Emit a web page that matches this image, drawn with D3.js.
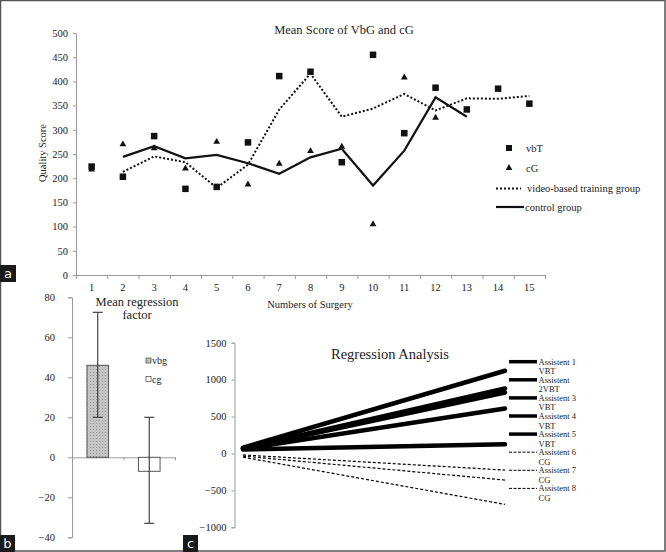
<!DOCTYPE html>
<html><head><meta charset="utf-8">
<script src="https://cdn.jsdelivr.net/npm/d3@7"></script>
<style>
body{margin:0;background:#fff}
svg{display:block;font-family:"Liberation Serif","Times New Roman",serif}
</style></head><body>
<svg id="chart" width="666" height="552"></svg>
<script>
// ---------- Panel a data ----------
const surgeries = ["1","2","3","4","5","6","7","8","9","10","11","12","13","14","15"];
const vbtScores = [224,203,287,178,182,274,411,420,233,455,293,387,342,385,354];
const cgScores  = [218,270,262,220,275,187,230,256,265,105,408,325,null,null,null];
const vbtTrend  = [null,213,245,233,180,228,342,416,327,344,374,340,365,364,370];
const cgTrend   = [null,244,266,241,248,231,209,243,261,185,257,367,327,null,null];
const scoreTicks = [0,50,100,150,200,250,300,350,400,450,500];
const topLegend = ["vbT","cG","video-based training group","control group"];

// ---------- Panel b data ----------
const groups = ["vbg","cg"];
const meanFactor = [46,-7];
const errUpper = [72.5,20];
const errLower = [20,-33];
const factorTicks = [-40,-20,0,20,40,60,80];

// ---------- Panel c data ----------
const assistLabel1 = ["Assistent 1","Assistent","Assistent 3","Assistent 4","Assistent 5","Assistent 6","Assistent 7","Assistent 8"];
const assistLabel2 = ["VBT","2VBT","VBT","VBT","VBT","CG","CG","CG"];
const assistGroup  = ["VBT","VBT","VBT","VBT","VBT","CG","CG","CG"];
const regStart = [80,70,65,60,55,-20,-35,-50];
const regEnd   = [1120,880,825,610,126,-225,-360,-690];
const regX = [1,2];
const regTicks = [-1000,-500,0,500,1000,1500];

const svg = d3.select("#chart");
const ink = "#222", axisCol = "#9a9a9a";
const serif = '"Liberation Serif","Times New Roman",serif';

function styleAxis(g){
  g.attr("font-family",serif);
  g.selectAll(".domain").attr("stroke",axisCol);
  g.selectAll(".tick line").attr("stroke",axisCol);
  g.selectAll("text").attr("fill",ink).attr("font-family",serif).style("font-family",serif);
}

// ================= Panel a =================
const xA = d3.scaleBand().domain(surgeries).range([76,545]);
const xAb = d3.scaleLinear().domain([0,15]).range([76,545]);
const yA = d3.scaleLinear().domain([0,500]).range([275,33]);

svg.append("g").attr("transform","translate(76,0)")
  .call(d3.axisLeft(yA).tickValues(scoreTicks).tickSize(3).tickPadding(5).tickFormat(d3.format("d")))
  .call(g=>g.selectAll("text").style("font-size","10.5px"))
  .call(styleAxis);
svg.append("g").attr("transform","translate(0,275)")
  .call(d3.axisBottom(xAb).ticks(15).tickSize(4).tickFormat(""))
  .call(styleAxis);
svg.append("g").attr("transform","translate(0,275)")
  .call(d3.axisBottom(xA).tickSize(0).tickPadding(8.5))
  .call(g=>g.select(".domain").remove())
  .call(g=>g.selectAll("text").style("font-size","10.5px"))
  .call(styleAxis);

svg.append("text").attr("x",344).attr("y",34).attr("text-anchor","middle")
  .style("font-size","12.5px").attr("fill",ink).text("Mean Score of VbG and cG");
svg.append("text").attr("transform","translate(46,153) rotate(-90)").attr("text-anchor","middle")
  .style("font-size","10.5px").attr("fill",ink).text("Quality Score");
svg.append("text").attr("x",310).attr("y",308).attr("text-anchor","middle")
  .style("font-size","10.5px").attr("fill",ink).text("Numbers of Surgery");

const cx = d=>xA(d)+xA.bandwidth()/2;
const lineA = d3.line().defined(d=>d[1]!=null).x(d=>cx(d[0])).y(d=>yA(d[1]));
svg.append("path").datum(surgeries.map((s,i)=>[s,vbtTrend[i]]))
  .attr("d",lineA).attr("fill","none").attr("stroke","#111").attr("stroke-width",2)
  .attr("stroke-dasharray","2,2");
svg.append("path").datum(surgeries.map((s,i)=>[s,cgTrend[i]]))
  .attr("d",lineA).attr("fill","none").attr("stroke","#111").attr("stroke-width",2.2);

const sq = 6.5;
svg.append("g").selectAll("rect").data(surgeries.map((s,i)=>[s,vbtScores[i]]))
  .join("rect").attr("x",d=>cx(d[0])-sq/2).attr("y",d=>yA(d[1])-sq/2)
  .attr("width",sq).attr("height",sq).attr("fill","#111");
const tri = d3.symbol().type(d3.symbolTriangle).size(20);
svg.append("g").selectAll("path").data(surgeries.map((s,i)=>[s,cgScores[i]]).filter(d=>d[1]!=null))
  .join("path").attr("d",tri).attr("transform",d=>`translate(${cx(d[0])},${yA(d[1])})`).attr("fill","#111");

// legend a
const lgA = svg.append("g");
lgA.append("rect").attr("x",506).attr("y",145).attr("width",6).attr("height",6).attr("fill","#111");
lgA.append("path").attr("d",tri).attr("transform","translate(509,168)").attr("fill","#111");
lgA.append("line").attr("x1",496).attr("x2",521).attr("y1",188.5).attr("y2",188.5)
  .attr("stroke","#111").attr("stroke-width",2).attr("stroke-dasharray","2,2");
lgA.append("line").attr("x1",496).attr("x2",524).attr("y1",207).attr("y2",207)
  .attr("stroke","#111").attr("stroke-width",2.2);
const lgAy = [152,172,192,211], lgAx = [526,526,527,525];
topLegend.forEach((t,i)=>lgA.append("text").attr("x",lgAx[i]).attr("y",lgAy[i])
  .style("font-size","10.5px").attr("fill",ink).text(t));

// ================= Panel b =================
const xB = d3.scaleBand().domain(groups).range([72,175]).paddingInner(0.58).paddingOuter(0.29);
const xBb = d3.scaleLinear().domain([0,2]).range([72,175]);
const yB = d3.scaleLinear().domain([-40,80]).range([537.3,297.3]);

svg.append("g").attr("transform","translate(72,0)")
  .call(d3.axisLeft(yB).tickValues(factorTicks).tickSize(4).tickPadding(13).tickFormat(d3.format("d")))
  .call(g=>g.selectAll("text").style("font-size","10.5px"))
  .call(styleAxis);
svg.append("g").attr("transform",`translate(0,${yB(0)})`)
  .call(d3.axisBottom(xBb).tickValues([1,2]).tickSize(3).tickFormat(""))
  .call(styleAxis);

const defs = svg.append("defs");
const pat = defs.append("pattern").attr("id","dots").attr("width",3).attr("height",3)
  .attr("patternUnits","userSpaceOnUse");
pat.append("rect").attr("width",3).attr("height",3).attr("fill","#c4c4c4");
pat.append("rect").attr("width",1).attr("height",1).attr("fill","#9a9a9a");

const fills = ["url(#dots)","#fff"];
svg.append("g").selectAll("rect").data(groups).join("rect")
  .attr("x",d=>xB(d)).attr("width",xB.bandwidth())
  .attr("y",(d,i)=>yB(Math.max(0,meanFactor[i])))
  .attr("height",(d,i)=>Math.abs(yB(meanFactor[i])-yB(0)))
  .attr("fill",(d,i)=>fills[i]).attr("stroke","#555").attr("stroke-width",1);

const eb = svg.append("g").attr("stroke","#333").attr("stroke-width",1.1);
groups.forEach((g,i)=>{
  const c = xB(g)+xB.bandwidth()/2;
  eb.append("line").attr("x1",c).attr("x2",c).attr("y1",yB(errUpper[i])).attr("y2",yB(errLower[i]));
  [errUpper[i],errLower[i]].forEach(v=>eb.append("line").attr("x1",c-5).attr("x2",c+5)
    .attr("y1",yB(v)).attr("y2",yB(v)));
});

svg.append("text").attr("x",137).attr("y",306).attr("text-anchor","middle")
  .style("font-size","12.5px").attr("fill",ink).text("Mean regression");
svg.append("text").attr("x",137).attr("y",319).attr("text-anchor","middle")
  .style("font-size","12.5px").attr("fill",ink).text("factor");

const lgB = svg.append("g");
groups.forEach((g,i)=>{
  const y = 358+i*18.5;
  lgB.append("rect").attr("x",146).attr("y",y).attr("width",5).attr("height",5)
    .attr("fill",fills[i]).attr("stroke","#555").attr("stroke-width",0.8);
  lgB.append("text").attr("x",152).attr("y",y+6).style("font-size","10px").attr("fill",ink).text(g);
});

// ================= Panel c =================
const xC = d3.scaleLinear().domain(regX).range([243,505]);
const yC = d3.scaleLinear().domain([-1000,1500]).range([527.3,342.7]);

svg.append("g").attr("transform","translate(234.5,0)")
  .call(d3.axisLeft(yC).tickValues(regTicks).tickSize(3).tickPadding(5).tickFormat(d3.format("d")))
  .call(g=>g.selectAll("text").style("font-size","10.5px"))
  .call(styleAxis);

svg.append("text").attr("x",390).attr("y",359).attr("text-anchor","middle")
  .style("font-size","14.5px").attr("fill",ink).text("Regression Analysis");

const regLine = d3.line().x(d=>xC(d[0])).y(d=>yC(d[1]));
assistGroup.forEach((grp,i)=>{
  const p = svg.append("path").datum([[regX[0],regStart[i]],[regX[1],regEnd[i]]])
    .attr("d",regLine).attr("fill","none").attr("stroke","#000");
  if(grp==="VBT") p.attr("stroke-width",4.5).attr("stroke-linecap","round");
  else p.attr("stroke-width",1.2).attr("stroke-dasharray","3,2");
});

const lgC = svg.append("g");
assistGroup.forEach((grp,i)=>{
  const y = 361.7+i*18.1;
  const l = lgC.append("line").attr("x1",509).attr("x2",537).attr("y1",y).attr("y2",y).attr("stroke","#000");
  if(grp==="VBT") l.attr("stroke-width",3.5);
  else l.attr("stroke-width",1).attr("stroke-dasharray","3,1.5");
  lgC.append("text").attr("x",538.5).attr("y",y+3).style("font-size","8.5px").attr("fill",ink).text(assistLabel1[i]);
  lgC.append("text").attr("x",538.5).attr("y",y+12.5).style("font-size","8.5px").attr("fill",ink).text(assistLabel2[i]);
});

// ================= Frame and panel tags =================
svg.append("rect").attr("x",0.5).attr("y",0.5).attr("width",664.5).attr("height",550.5)
  .attr("fill","none").attr("stroke","#555").attr("stroke-width",1.5);
const tags = [["a",0,265,16,17],["b",0,535,15,17],["c",183,535,15,17]];
tags.forEach(([t,x,y,w,h])=>{
  svg.append("rect").attr("x",x).attr("y",y).attr("width",w).attr("height",h).attr("fill","#1a1a1a");
  svg.append("text").attr("x",x+w/2).attr("y",y+h-4).attr("text-anchor","middle")
    .style("font-family","'DejaVu Sans',sans-serif").style("font-size","13px").attr("fill","#fff").text(t);
});
</script>
</body></html>
